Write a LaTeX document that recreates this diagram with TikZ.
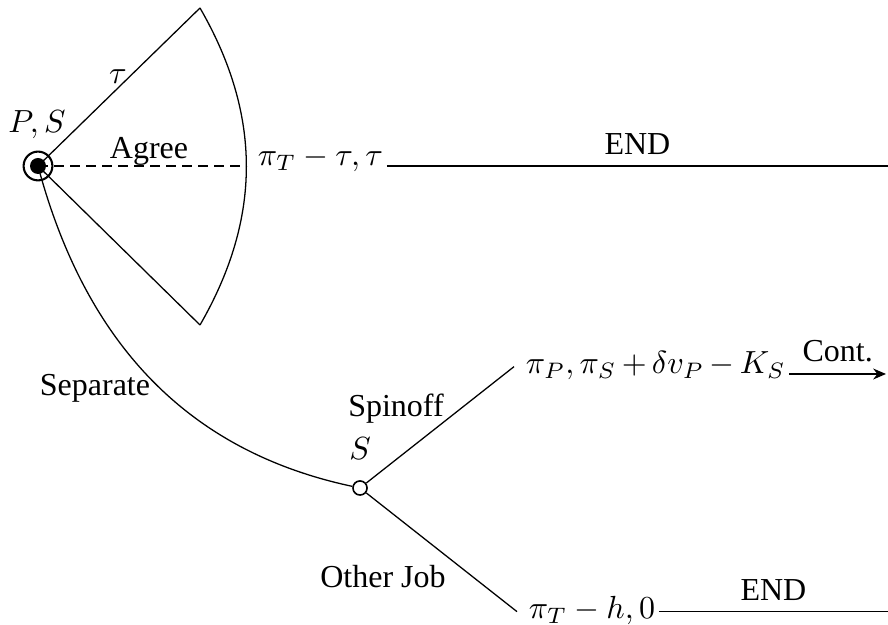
\documentclass[tikz,border=0pt]{standalone}
\usepackage{fontspec}
\setmainfont{Liberation Serif}
\usetikzlibrary{arrows.meta}
\begin{document}
\begin{tikzpicture}[x=0.3125pt,y=0.3125pt,
  rootnode/.style={circle, draw, line width=0.65pt, minimum size=9pt, inner sep=0pt},
  chance/.style={circle, draw, line width=0.5pt, fill=white, minimum size=4.4pt, inner sep=0pt},
  pay/.style={anchor=base west, inner xsep=1pt},
  edge/.style={line width=0.4pt},
  contarrow/.style={line width=0.7pt, -{Stealth[length=4pt,width=3.4pt]}}]
\useasboundingbox (0,0) rectangle (888,625);
% nodes
\node[rootnode] (root) at (38,459) {};
\coordinate (t1) at (200,617);
\coordinate (t2) at (200,300);
\coordinate (a) at (247,459);
\node[pay] (p1) at (254,459) {$\pi_T-\tau,\tau$};
\coordinate (e1) at (888,459);
\node[chance] (S) at (360,137) {};
\node[pay] (p2) at (522,251) {\medmuskip=3mu $\pi_P,\pi_S+\delta v_P-K_S$};
\coordinate (e2) at (886,251);
\node[pay] (p3) at (525,6) {$\pi_T-h,0$};
\coordinate (e3) at (888,6);
% connectors
\draw[edge] (root.center) -- (t1);
\draw[edge] (root.center) -- (t2);
\draw[edge] (t1) to[bend left=30] (t2);
\draw[edge, dash pattern=on 3pt off 2pt] (root.center) -- (a);
\draw[edge] (p1.base east) -- (e1) node[midway, above] {END};
\draw[edge] (root.center) to[out=-75, in=168] (S);
\draw[edge] (S) -- ([xshift=-2.5pt]p2.mid west);
\draw[edge] (S) -- ([xshift=-2.5pt]p3.mid west);
\draw[contarrow] (p2.base east) -- (e2) node[midway, above] {Cont.};
\draw[edge] (p3.mid east) -- (p3.mid east -| e3) node[midway, above] {END};
\fill (root.center) circle (2.5pt);
% labels
\node (lps) at (37,500) {$P,S$};
\node (ltau) at (118,548) {$\tau$};
\node (lagree) at (149,474) {Agree};
\node (lsep) at (95,237) {Separate};
\node (lspin) at (396,216) {Spinoff};
\node (ls) at (360,176) {$S$};
\node (loj) at (383,48) {Other Job};
\end{tikzpicture}
\end{document}
